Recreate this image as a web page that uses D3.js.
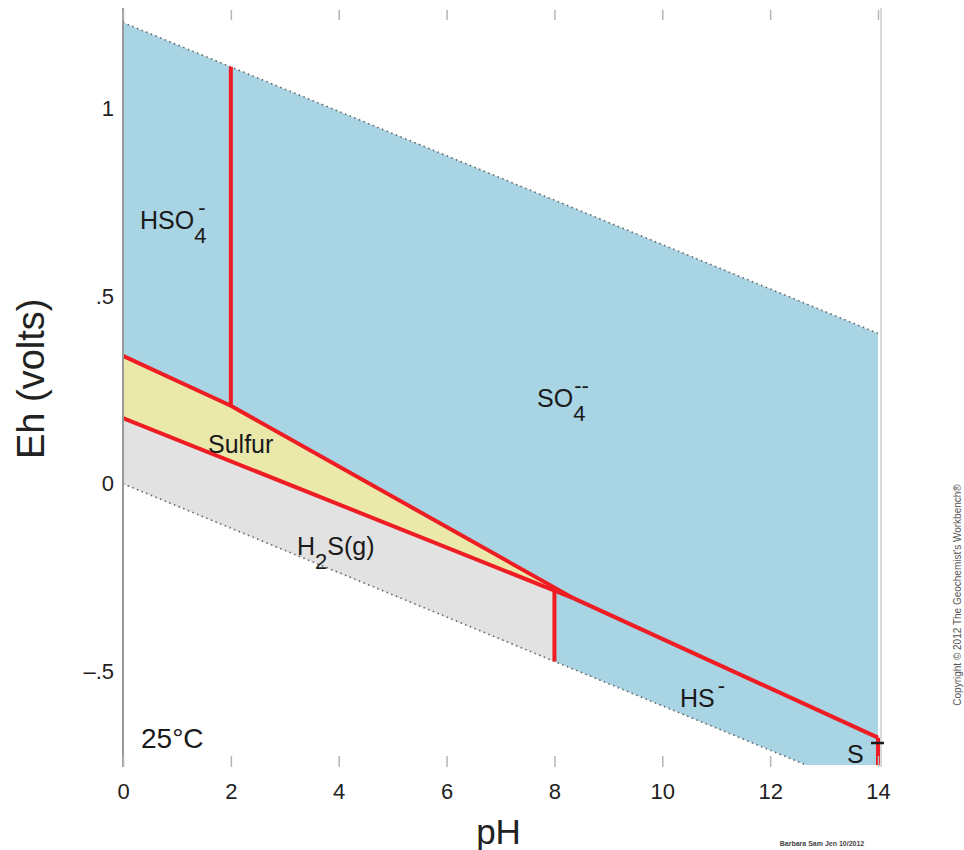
<!DOCTYPE html>
<html>
<head>
<meta charset="utf-8">
<script src="https://cdn.jsdelivr.net/npm/d3@7"></script>
<style>
  html, body { margin: 0; padding: 0; background: #fff; }
  svg { display: block; font-family: "Liberation Sans", Arial, sans-serif; }
</style>
</head>
<body>
<svg id="chart" width="964" height="850"></svg>
<script>
// ---------- data (pH, Eh in volts) ----------
const pHTicks = [0, 2, 4, 6, 8, 10, 12, 14];
const ehTicks = [-0.5, 0, 0.5, 1];
const ehTickLabels = ["\u2013.5", "0", ".5", "1"];

const upperWater = [[0, 1.23], [14, 0.401]];
const lowerWater = [[0, 0.0], [14, -0.829]];

const hso4Boundary = [[2, 1.112], [2, 0.208]];
const sulfurUpper = [[0, 0.341], [2, 0.208], [8.35, -0.305]];
const sulfurLower = [[0, 0.175], [8.35, -0.305]];
const hsBoundary = [[8.35, -0.305], [14, -0.677]];
const h2sBoundary = [[8, -0.285], [8, -0.474]];
const s2Boundary = [[14, -0.677], [14, -0.75]];

const waterRegion = [[0, 1.23], [14, 0.401], [14, -0.829], [0, 0.0]];
const sulfurRegion = [[0, 0.341], [2, 0.208], [8.35, -0.305], [0, 0.175]];
const h2sRegion = [[0, 0.175], [8, -0.285], [8, -0.474], [0, 0.0]];

// ---------- scales ----------
const svg = d3.select("#chart");
const x = d3.scaleLinear().domain([0, 14]).range([123, 878]);
const y = d3.scaleLinear().domain([-0.75, 1.25]).range([765, 15]);

const line = d3.line().x(d => x(d[0])).y(d => y(d[1]));
const poly = pts => line(pts) + "Z";

svg.append("defs").append("clipPath").attr("id", "plotClip")
  .append("rect").attr("x", x(0)).attr("y", y(1.25))
  .attr("width", x(14) - x(0)).attr("height", y(-0.75) - y(1.25));

const plot = svg.append("g").attr("clip-path", "url(#plotClip)");

// regions
plot.append("path").attr("d", poly(waterRegion)).attr("fill", "#a9d4e4");
plot.append("path").attr("d", poly(h2sRegion)).attr("fill", "#e2e2e2");
plot.append("path").attr("d", poly(sulfurRegion)).attr("fill", "#ebe8ab");

// water stability limits (dotted)
[upperWater, lowerWater].forEach(l => {
  plot.append("path").attr("d", line(l)).attr("fill", "none")
    .attr("stroke", "#666").attr("stroke-width", 1.6)
    .attr("stroke-dasharray", "1.5,3.5");
});

// red boundaries
const redLines = [hso4Boundary, sulfurUpper, sulfurLower, hsBoundary, h2sBoundary, s2Boundary];
redLines.forEach(l => {
  svg.append("path").attr("d", line(l)).attr("fill", "none")
    .attr("stroke", "#ee1d23").attr("stroke-width", 4)
    .attr("stroke-linejoin", "round").attr("stroke-linecap", "butt");
});

// ---------- axes ----------
const axisColor = "#b5b5b5";
// left axis line
svg.append("line").attr("x1", x(0)).attr("x2", x(0)).attr("y1", 8).attr("y2", 767)
  .attr("stroke", "#999").attr("stroke-width", 2);
// right border
svg.append("line").attr("x1", x(14) + 3).attr("x2", x(14) + 3).attr("y1", 8).attr("y2", 767)
  .attr("stroke", "#ccc").attr("stroke-width", 1.5);

// top ticks
const topAxis = svg.append("g").attr("transform", "translate(0,10)")
  .call(d3.axisTop(x).tickValues(pHTicks).tickSize(-10).tickFormat(""));
topAxis.select(".domain").remove();
topAxis.selectAll("line").attr("stroke", axisColor).attr("stroke-width", 1.5);

// bottom axis
const botAxis = svg.append("g").attr("transform", "translate(0,767)")
  .call(d3.axisBottom(x).tickValues(pHTicks).tickSize(-11).tickPadding(16).tickFormat(d3.format("d")));
botAxis.select(".domain").remove();
botAxis.selectAll("line").attr("stroke", axisColor).attr("stroke-width", 1.5);
botAxis.selectAll("text").attr("font-size", 22).attr("fill", "#222")
  .attr("font-family", "Liberation Sans, Arial, sans-serif");

// left axis labels
const leftAxis = svg.append("g").attr("transform", `translate(${x(0)},0)`)
  .call(d3.axisLeft(y).tickValues(ehTicks).tickSize(0).tickPadding(9)
    .tickFormat((d, i) => ehTickLabels[i]));
leftAxis.select(".domain").remove();
leftAxis.selectAll("text").attr("font-size", 22).attr("fill", "#222")
  .attr("font-family", "Liberation Sans, Arial, sans-serif");

// axis titles
svg.append("text").attr("x", x(7) - 2).attr("y", 844).attr("text-anchor", "middle")
  .attr("font-size", 35).attr("fill", "#222").text("pH");
svg.append("text").attr("transform", `translate(44,${y(0.28)}) rotate(-90)`)
  .attr("text-anchor", "middle").attr("font-size", 38).attr("fill", "#222").text("Eh (volts)");

// ---------- region labels ----------
const fs = 25, subFs = 22;
function chem(px, py, base, sub, sup, opts = {}) {
  const g = svg.append("g");
  const t = g.append("text").attr("x", px).attr("y", py).attr("font-size", fs).attr("fill", "#1a1a1a");
  t.append("tspan").text(base);
  if (sub) t.append("tspan").attr("font-size", subFs).attr("dy", 14).text(sub);
  if (opts.after) t.append("tspan").attr("dy", -14).text(opts.after);
  if (sup) {
    const node = t.node();
    const w = node.getComputedTextLength();
    const subW = sub && !opts.after ? (sub.length * subFs * 0.556) : 0;
    g.append("text").attr("x", px + w - subW + (opts.supDx || 0)).attr("y", py - 14)
      .attr("font-size", subFs).attr("fill", "#1a1a1a").text(sup);
  }
  return g;
}
chem(140, 229, "HSO", "4", "-", { supDx: 4 });
chem(537, 407, "SO", "4", "--", { supDx: 1 });
chem(297, 555, "H", "2", null, { after: "S(g)" });
chem(680, 707, "HS", null, "-", { supDx: 3 });

svg.append("text").attr("x", 208).attr("y", 453).attr("font-size", fs).attr("fill", "#1a1a1a").text("Sulfur");
svg.append("text").attr("x", 847).attr("y", 763).attr("font-size", fs).attr("fill", "#1a1a1a").text("S");
svg.append("line").attr("x1", 871).attr("x2", 884).attr("y1", 743).attr("y2", 743)
  .attr("stroke", "#1a1a1a").attr("stroke-width", 2.5);
svg.append("text").attr("x", 141).attr("y", 748).attr("font-size", 28).attr("fill", "#1a1a1a").text("25\u00B0C");

// tiny credits
svg.append("text").attr("x", 822).attr("y", 846).attr("text-anchor", "middle")
  .attr("font-size", 7).attr("font-weight", "bold").attr("fill", "#444").text("Barbara Sam Jen 10/2012");
svg.append("text").attr("transform", "translate(961,595) rotate(-90)").attr("text-anchor", "middle")
  .attr("font-size", 10).attr("fill", "#555").text("Copyright \u00A9 2012 The Geochemist's Workbench\u00AE");
</script>
</body>
</html>
